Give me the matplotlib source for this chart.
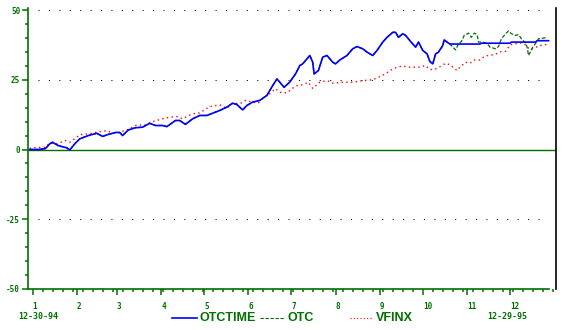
import numpy as np
import pandas as pd
import matplotlib
matplotlib.use('Agg')
import matplotlib.pyplot as plt
import matplotlib.dates as mdates
from matplotlib.lines import Line2D
from matplotlib.ticker import MultipleLocator

start = pd.Timestamp('1994-12-30')

# days after 12-30-94, % change; OTC and OTCTIME move together up to day 294
days_a = [0, 6, 11, 14, 16, 20, 23, 26, 28, 32, 35, 41, 47, 51, 55, 60, 63, 65, 69, 74,
          79, 84, 88, 93, 96, 102, 105, 109, 114, 119, 124, 128, 133, 138, 142, 145, 149, 152, 156, 161,
          166, 170, 173, 175, 178, 182, 186, 189, 191, 194, 196, 198, 199, 202, 205, 208, 212, 214, 217, 222,
          226, 229, 233, 236, 240, 243, 247, 250, 254, 256, 258, 261, 263, 266, 270, 272, 275, 278, 280, 282,
          284, 286, 289, 290, 292, 294]
fund_a = [0, 0, 0.3, 2, 2.6, 1.4, 1, 0.6, -0.2, 2.3, 3.8, 5, 5.8, 4.7, 5.4, 6.1, 6.1, 5, 7, 7.8,
          8, 9.4, 8.6, 8.6, 8.2, 10.4, 10.4, 9, 11, 12.2, 12.2, 13, 14, 15.2, 16.6, 16.1, 14.2, 15.8, 17, 17.6,
          19.4, 22.9, 25.3, 24.1, 22.3, 24.2, 27.1, 30.1, 30.7, 32.5, 33.7, 31.3, 27.1, 28.3, 33.1, 33.7, 31.3, 30.7, 32.1, 33.7,
          36.1, 36.9, 36.1, 34.9, 33.7, 35.5, 38.5, 40.2, 42, 42, 40.2, 41.5, 40.9, 39, 36.7, 38.5, 35.5, 34.3, 31.5, 30.7,
          34.3, 34.9, 37.3, 39.3, 38.5, 37.8]

otc_days_b = [296, 298, 300, 302, 304, 307, 309, 311, 313, 314, 317, 320, 322, 326, 328, 330, 333, 335, 337, 340,
              342, 344, 347, 348, 349, 352, 354, 356, 359, 362]
otc_b = [36.7, 35.7, 37.9, 38.7, 40.9, 41.7, 40.2, 41.7, 41.2, 38.5, 38.5, 38, 36.7, 36.1, 36.9, 39.7, 41.5, 42.5, 41.5, 40.9,
         41.2, 39.7, 38.1, 36.7, 33.7, 36.7, 38.1, 39.7, 39.9, 40.2]

otctime_days_b = [300, 315, 316, 336, 337, 354, 355, 363]
otctime_b = [37.8, 37.8, 38.1, 38.1, 38.5, 38.5, 39.0, 39.0]

vfinx_days = [0, 4, 11, 14, 19, 25, 28, 32, 35, 41, 47, 54, 58, 63, 69, 75, 81, 86, 93, 98,
              103, 107, 114, 119, 126, 133, 138, 142, 147, 151, 156, 160, 163, 168, 172, 175, 180, 184, 187, 191,
              195, 198, 203, 208, 212, 219, 226, 233, 240, 244, 249, 252, 257, 261, 266, 272, 277, 280, 284, 287,
              291, 294, 296, 299, 301, 305, 308, 311, 315, 318, 322, 325, 329, 333, 336, 340, 343, 346, 350, 354,
              357, 362]
vfinx = [0.4, 0.7, 0.8, 2.3, 2, 3.2, 2.6, 4, 5.3, 5.6, 6.2, 6.8, 5.8, 6.2, 7.2, 8.8, 8.8, 10, 11, 11.6,
         11.8, 11, 12.8, 13.1, 15.4, 16, 14.8, 16.6, 16.4, 17.6, 17, 16.6, 18.4, 20, 21.8, 20.5, 20.3, 22, 22.9, 23.2,
         24.1, 21.9, 24.1, 24.7, 23.8, 24.1, 24.1, 24.7, 25, 25.9, 27.1, 28.3, 29.5, 29.9, 29.5, 29.5, 30.1, 28.6, 28.9, 29.7,
         30.9, 30.4, 29.5, 28.3, 29.5, 31.3, 30.9, 32.1, 32.1, 33.3, 33.9, 33.9, 35, 35.2, 37.5, 37.9, 38.2, 37.9, 35.8, 36.6,
         37.3, 37.7]

month_starts = pd.date_range('1995-01-01', '1995-12-01', freq='MS')
month_labels = ['1', '2', '3', '4', '5', '6', '7', '8', '9', '10', '11', '12']

green = '#007000'
lab_font = {'family': 'DejaVu Sans Mono', 'weight': 'bold'}


def to_dates(d):
    return start + pd.to_timedelta(np.array(d, dtype=float), unit='D')


otc_x = to_dates(days_a + otc_days_b)
otc_y = fund_a + otc_b
otctime_x = to_dates(days_a + otctime_days_b)
otctime_y = fund_a + otctime_b
vf_x = to_dates(vfinx_days)

fig = plt.figure(figsize=(5.69, 3.30), dpi=100)
ax = fig.add_axes([28 / 569, 41 / 330, 528 / 569, 281 / 330])

# grid dots and zero line
g0 = start + pd.Timedelta(days=5.7)
g1 = start + pd.Timedelta(days=362.7)
ax.hlines([50, 25, -25], g0, g1, colors='black', lw=0.75, linestyles=[(0, (1, 9))])
ax.axhline(0, color=green, lw=1.0)

ax.plot(vf_x, vfinx, color='#ff0000', lw=1.0, linestyle=(0, (1, 2.4)))
ax.plot(otc_x, otc_y, color=green, lw=0.9, linestyle=(0, (3, 1.5)))
ax.plot(otctime_x, otctime_y, color='#0000ff', lw=1.2)

ax.set_xlim(start - pd.Timedelta(days=1.15), start + pd.Timedelta(days=368.2))
ax.set_ylim(-50, 50.72)

ax.spines['top'].set_visible(False)
ax.spines['left'].set_color(green)
ax.spines['left'].set_linewidth(1.2)
ax.spines['bottom'].set_color(green)
ax.spines['bottom'].set_linewidth(1.2)
ax.spines['bottom'].set_bounds(mdates.date2num(start - pd.Timedelta(days=1.15)),
                               mdates.date2num(start + pd.Timedelta(days=363.5)))
ax.spines['right'].set_color('black')
ax.spines['right'].set_linewidth(1.2)

ax.set_yticks([-50, -25, 0, 25, 50])
ax.set_yticklabels(['-50', '-25', '0', '25', '50'], fontdict=lab_font)
ax.yaxis.set_minor_locator(MultipleLocator(5))
ax.tick_params(axis='y', which='major', direction='out', length=4.6, width=1.1,
               colors=green, pad=1, labelsize=5.5)
ax.tick_params(axis='y', which='minor', direction='out', length=2.2, width=1.1, colors=green)

ax.set_xticks(month_starts)
ax.set_xticklabels(month_labels, fontdict=lab_font, ha='left')
ax.xaxis.set_minor_locator(mdates.WeekdayLocator(byweekday=mdates.SU))
ax.tick_params(axis='x', which='major', direction='out', length=4.4, width=1.1,
               colors=green, pad=5, labelsize=5.5)
ax.tick_params(axis='x', which='minor', direction='out', length=2.2, width=1.1, colors=green)

# start / end dates
fig.text(18 / 569, 1 - 316.5 / 330, '12-30-94', color=green, fontsize=6, va='center', ha='left', **lab_font)
fig.text(487 / 569, 1 - 316.5 / 330, '12-29-95', color=green, fontsize=6, va='center', ha='left', **lab_font)

# legend
ly = 1 - 318 / 330
leg_font = 'Liberation Sans'
fig.add_artist(Line2D([172 / 569, 197 / 569], [ly, ly], color='#0000ff', lw=1.2))
fig.text(200 / 569, ly, 'OTCTIME', color=green, fontsize=9, fontweight='bold', family=leg_font, va='center')
fig.add_artist(Line2D([260 / 569, 285 / 569], [ly, ly], color=green, lw=0.8, linestyle=(0, (3, 1.5))))
fig.text(288 / 569, ly, 'OTC', color=green, fontsize=9, fontweight='bold', family=leg_font, va='center')
fig.add_artist(Line2D([350 / 569, 372 / 569], [ly, ly], color='#ff0000', lw=0.8, linestyle=(0, (1, 2))))
fig.text(376 / 569, ly, 'VFINX', color=green, fontsize=9, fontweight='bold', family=leg_font, va='center')

fig.savefig('out.png', dpi=100)
